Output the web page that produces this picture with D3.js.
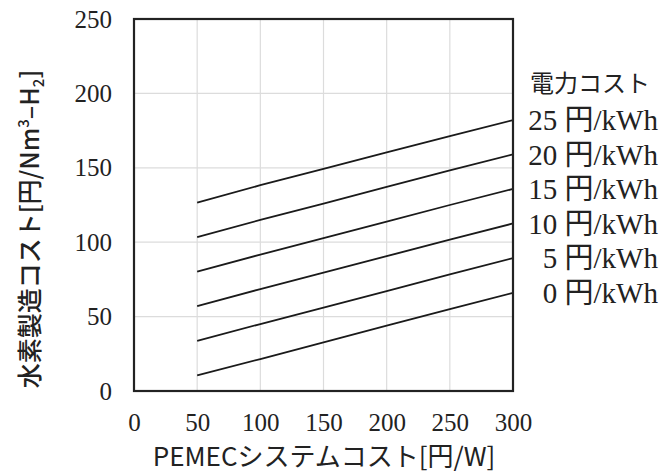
<!DOCTYPE html>
<html>
<head>
<meta charset="utf-8">
<script src="https://d3js.org/d3.v7.min.js"></script>
<style>
  body { margin: 0; background: #fff; }
  svg { display: block; }
</style>
</head>
<body>
<div id="chart"></div>
<script>
// PEMEC system cost [円/W]
const systemCost = [50, 100, 150, 200, 250, 300];

// electricity cost series [円/kWh] -> hydrogen cost [円/Nm3-H2]
const powerCosts = [0, 5, 10, 15, 20, 25];
const cost0  = [10.5, 21.5, 32.7, 44.0, 55.0, 66.0];
const cost5  = [33.7, 45.0, 56.0, 67.2, 78.3, 89.3];
const cost10 = [57.0, 68.5, 79.6, 90.6, 101.7, 112.6];
const cost15 = [80.2, 91.7, 102.8, 113.9, 125.0, 135.8];
const cost20 = [103.4, 115.0, 126.0, 137.1, 148.2, 159.0];
const cost25 = [126.6, 138.3, 149.3, 160.4, 171.3, 182.0];
const seriesValues = [cost0, cost5, cost10, cost15, cost20, cost25];

const xTicks = [0, 50, 100, 150, 200, 250, 300];
const yTicks = [0, 50, 100, 150, 200, 250];

const width = 660, height = 475;
const margin = { top: 19, right: 147, bottom: 84, left: 134 };
const innerW = width - margin.left - margin.right;
const innerH = height - margin.top - margin.bottom;

const serif = '"Liberation Serif", "Noto Sans CJK JP", serif';
const sans = '"Noto Sans CJK JP", "Noto Sans", sans-serif';

const svg = d3.select('#chart').append('svg')
    .attr('width', width)
    .attr('height', height);

const g = svg.append('g')
    .attr('transform', `translate(${margin.left},${margin.top})`);

const x = d3.scaleLinear().domain([0, 300]).range([0, innerW]);
const y = d3.scaleLinear().domain([0, 250]).range([innerH, 0]);

// grid
g.append('g')
    .selectAll('line')
    .data(xTicks.slice(1, -1))
    .join('line')
    .attr('x1', d => x(d)).attr('x2', d => x(d))
    .attr('y1', 0).attr('y2', innerH)
    .attr('stroke', '#dcdcdc').attr('stroke-width', 1.2);

g.append('g')
    .selectAll('line')
    .data(yTicks.slice(1, -1))
    .join('line')
    .attr('x1', 0).attr('x2', innerW)
    .attr('y1', d => y(d)).attr('y2', d => y(d))
    .attr('stroke', '#dcdcdc').attr('stroke-width', 1.2);

// series lines
const line = d3.line()
    .x((d, i) => x(systemCost[i]))
    .y(d => y(d));

g.append('g')
    .selectAll('path')
    .data(seriesValues)
    .join('path')
    .attr('d', d => line(d))
    .attr('fill', 'none')
    .attr('stroke', '#1a1a1a')
    .attr('stroke-width', 1.8);

// frame
g.append('rect')
    .attr('width', innerW)
    .attr('height', innerH)
    .attr('fill', 'none')
    .attr('stroke', '#222')
    .attr('stroke-width', 2.2);

// axes (tick labels only)
const xAxis = g.append('g')
    .attr('transform', `translate(0,${innerH})`)
    .call(d3.axisBottom(x).tickValues(xTicks).tickSize(0).tickPadding(22));
const yAxis = g.append('g')
    .call(d3.axisLeft(y).tickValues(yTicks).tickSize(0).tickPadding(22));

[xAxis, yAxis].forEach(a => {
    a.select('.domain').remove();
    a.selectAll('text')
        .attr('font-family', serif)
        .attr('font-size', '25px')
        .attr('fill', '#222');
});

// axis titles
svg.append('text')
    .attr('x', 324)
    .attr('y', 466)
    .attr('text-anchor', 'middle')
    .attr('font-family', sans)
    .attr('font-size', '26px')
    .attr('fill', '#222')
    .text('PEMECシステムコスト[円/W]');

const yTitle = svg.append('text')
    .attr('transform', 'translate(39,229) rotate(-90)')
    .attr('text-anchor', 'middle')
    .attr('font-family', sans)
    .attr('font-size', '25px')
    .attr('font-weight', 500)
    .attr('fill', '#222');
yTitle.append('tspan').text('水素製造コスト[円/Nm');
yTitle.append('tspan').attr('font-size', '15px').attr('dy', -10).text('3');
yTitle.append('tspan').attr('dy', 10).text('–H');
yTitle.append('tspan').attr('font-size', '15px').attr('dy', 5).text('2');
yTitle.append('tspan').attr('dy', -5).text(']');

// legend
svg.append('text')
    .attr('x', 530)
    .attr('y', 92)
    .attr('font-family', sans)
    .attr('font-size', '24px')
    .attr('fill', '#222')
    .text('電力コスト');

const lastIdx = systemCost.length - 1;
svg.append('g')
    .selectAll('text')
    .data(powerCosts)
    .join('text')
    .attr('x', 658)
    .attr('y', (d, i) => margin.top + y(seriesValues[i][lastIdx]))
    .attr('dy', '0.35em')
    .attr('text-anchor', 'end')
    .attr('font-family', serif)
    .attr('font-size', '29px')
    .attr('fill', '#222')
    .text(d => `${d} 円/kWh`);
</script>
</body>
</html>
